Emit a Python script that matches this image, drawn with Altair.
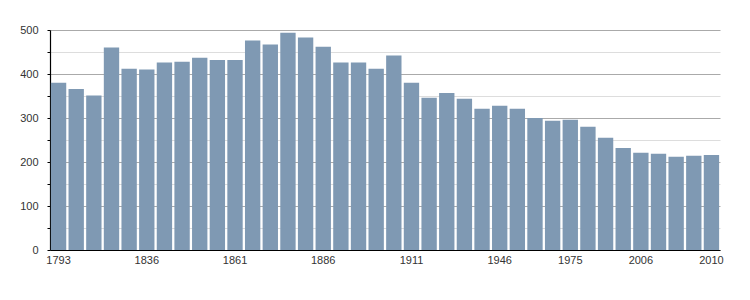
import altair as alt
import pandas as pd

years = ["1793", "1800", "1806", "1821", "1831", "1836", "1841", "1846", "1851", "1856",
         "1861", "1866", "1872", "1876", "1881", "1886", "1891", "1896", "1901", "1906",
         "1911", "1921", "1926", "1931", "1936", "1946", "1954", "1962", "1968", "1975",
         "1982", "1990", "1999", "2006", "2007", "2008", "2009", "2010"]
population = [380, 366, 351, 460, 412, 410, 426, 428, 437, 432,
              432, 476, 467, 494, 483, 462, 426, 426, 412, 442,
              380, 346, 357, 344, 321, 328, 321, 300, 294, 296,
              280, 255, 232, 221, 219, 212, 214, 216]
x_labels = ["1793", "1836", "1861", "1886", "1911", "1946", "1975", "2006", "2010"]
y_ticks = [0, 50, 100, 150, 200, 250, 300, 350, 400, 450, 500]

df = pd.DataFrame({"year": years, "pop": population})

chart = alt.Chart(df).mark_bar(color="#7f99b3").encode(
    x=alt.X("year:N", sort=years,
            scale=alt.Scale(paddingInner=0.13, paddingOuter=0.05),
            axis=alt.Axis(title=None, values=x_labels, labelAngle=0, ticks=False,
                          domainColor="#000000", domainWidth=1.2, labelPadding=4,
                          labelColor="#333333", labelFontSize=11,
                          labelFont="Liberation Sans")),
    y=alt.Y("pop:Q", scale=alt.Scale(domain=[0, 500], nice=False),
            axis=alt.Axis(title=None, values=y_ticks,
                          labelExpr="datum.value % 100 === 0 ? datum.label : ''",
                          grid=True,
                          gridColor={"condition": {"test": "datum.value % 100 === 0", "value": "#aaaaaa"}, "value": "#dddddd"},
                          gridWidth=1, tickSize=3, tickColor="#000000",
                          domainColor="#000000", domainWidth=1.2,
                          labelColor="#333333", labelFontSize=11, labelPadding=9,
                          labelFont="Liberation Sans")),
).properties(
    width=670, height=220,
    padding={"left": 50, "top": 30, "right": 30, "bottom": 50},
    autosize="none",
).configure_view(stroke=None)

chart.save("out.html", embed_options={"renderer": "svg", "actions": False})
